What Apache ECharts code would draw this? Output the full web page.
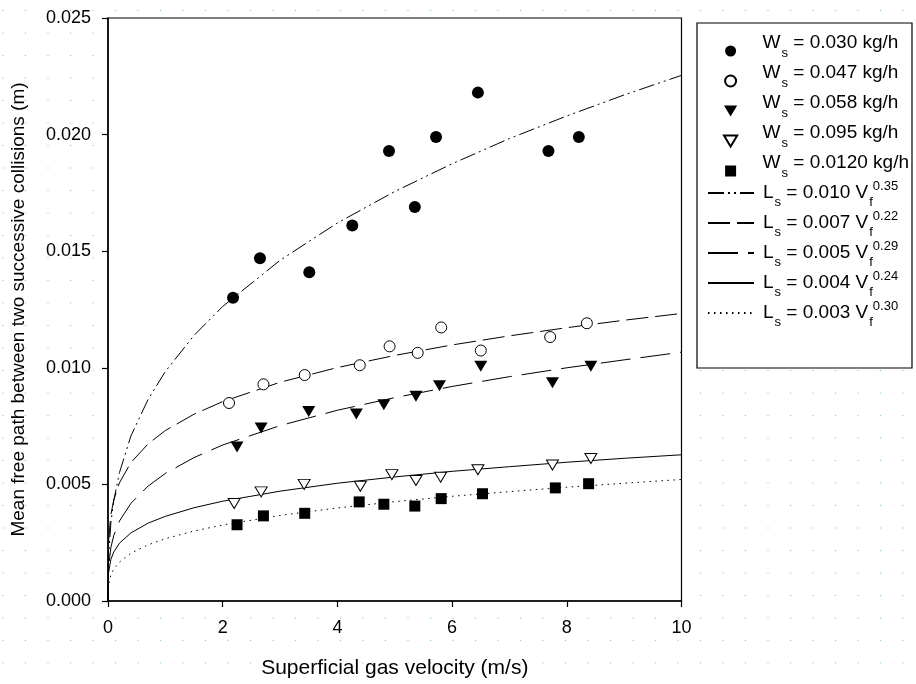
<!DOCTYPE html>
<html><head><meta charset="utf-8">
<script src="https://cdn.jsdelivr.net/npm/echarts@6/dist/echarts.min.js"></script>
<style>
html,body{margin:0;padding:0;background:#fff;}
#c{width:916px;height:684px;background-color:#fff;
background-image:radial-gradient(circle at center,#93d6ec 0,#93d6ec 0.55px,rgba(255,255,255,0) 1.1px);
background-size:22.5px 22.5px;background-position:-8.25px -0.75px;}
</style></head><body><div id="c"></div>
<script>
// ---- measured points (V in m/s, L in m) ----
const v030 = [2.18, 2.65, 3.51, 4.26, 4.90, 5.35, 5.72, 6.45, 7.68, 8.21];
const l030 = [0.0130, 0.0147, 0.0141, 0.0161, 0.0193, 0.0169, 0.0199, 0.0218, 0.0193, 0.0199];
const v047 = [2.11, 2.71, 3.43, 4.39, 4.91, 5.40, 5.81, 6.50, 7.71, 8.35];
const l047 = [0.00849, 0.00929, 0.00969, 0.01011, 0.01092, 0.01064, 0.01173, 0.01074, 0.01132, 0.01191];
const v058 = [2.25, 2.67, 3.50, 4.33, 4.81, 5.37, 5.78, 6.50, 7.75, 8.42];
const l058 = [0.00660, 0.00742, 0.00813, 0.00802, 0.00842, 0.00878, 0.00923, 0.01007, 0.00936, 0.01007];
const v095 = [2.20, 2.67, 3.42, 4.40, 4.95, 5.37, 5.80, 6.45, 7.75, 8.42];
const l095 = [0.00418, 0.00468, 0.00500, 0.00492, 0.00542, 0.00517, 0.00531, 0.00563, 0.00583, 0.00611];
const v0120 = [2.25, 2.71, 3.43, 4.38, 4.81, 5.35, 5.81, 6.53, 7.80, 8.38];
const l0120 = [0.00327, 0.00365, 0.00376, 0.00425, 0.00415, 0.00407, 0.00439, 0.00460, 0.00485, 0.00503];

// ---- fitted curves ----
const vFit = [0, 0.01, 0.05, 0.1, 0.2, 0.4, 0.7, 1, 1.5, 2, 3, 4, 5, 6, 7, 8, 9, 10];
const fitA = [0, 0.00188, 0.00335, 0.00430, 0.00551, 0.00708, 0.00865, 0.00984, 0.01139, 0.01263, 0.01461, 0.01621, 0.01756, 0.01875, 0.01983, 0.02080, 0.02170, 0.02254];
const fitB = [0, 0.00257, 0.00370, 0.00433, 0.00507, 0.00594, 0.00674, 0.00731, 0.00801, 0.00855, 0.00938, 0.01001, 0.01053, 0.01098, 0.01137, 0.01172, 0.01204, 0.01233];
const fitC = [0, 0.00144, 0.00229, 0.00281, 0.00343, 0.00419, 0.00493, 0.00547, 0.00615, 0.00669, 0.00752, 0.00818, 0.00872, 0.00920, 0.00962, 0.01000, 0.01034, 0.01067];
const fitD = [0, 0.00122, 0.00178, 0.00210, 0.00248, 0.00292, 0.00334, 0.00363, 0.00400, 0.00428, 0.00471, 0.00505, 0.00532, 0.00556, 0.00576, 0.00595, 0.00612, 0.00627];
const fitE = [0, 0.00070, 0.00112, 0.00137, 0.00167, 0.00205, 0.00241, 0.00267, 0.00300, 0.00326, 0.00367, 0.00399, 0.00426, 0.00449, 0.00469, 0.00488, 0.00505, 0.00521];

// ---- labels ----
const flowRates = ['0.030', '0.047', '0.058', '0.095', '0.0120'];
const fitCoef = ['0.010', '0.007', '0.005', '0.004', '0.003'];
const fitExp = ['0.35', '0.22', '0.29', '0.24', '0.30'];
const xTicks = [0, 2, 4, 6, 8, 10];
const yTicks = ['0.000', '0.005', '0.010', '0.015', '0.020', '0.025'];
const xTitle = 'Superficial gas velocity (m/s)';
const yTitle = 'Mean free path between two successive collisions (m)';

const FONT = '"Liberation Sans", Arial, sans-serif';
const zip = (a, b) => a.map((v, i) => [v, b[i]]);

const DOWN_TRI = 'path://M0,0L12,0L6,10Z';
const SQUARE = 'path://M0,0L10,0L10,10L0,10Z';
const scatterDefs = [
  { x: v030, y: l030, symbol: 'circle', size: 12, rot: 0, fill: '#000', icon: 'circle' },
  { x: v047, y: l047, symbol: 'circle', size: 11, rot: 0, fill: '#fff', icon: 'circle' },
  { x: v058, y: l058, symbol: 'triangle', size: [13, 11], rot: 180, fill: '#000', icon: DOWN_TRI },
  { x: v095, y: l095, symbol: 'triangle', size: [12, 10], rot: 180, fill: '#fff', icon: DOWN_TRI },
  { x: v0120, y: l0120, symbol: 'rect', size: 11, rot: 0, fill: '#000', icon: SQUARE }
];
const fitDefs = [
  { y: fitA, dash: [16, 4, 2, 4, 2, 4] },
  { y: fitB, dash: [22, 7] },
  { y: fitC, dash: [30, 10] },
  { y: fitD, dash: 'solid' },
  { y: fitE, dash: [1.5, 4.5] }
];
const wNames = flowRates.map(r => 'Ws = ' + r + ' kg/h');
const lNames = fitCoef.map((c, i) => 'Ls = ' + c + ' Vf^' + fitExp[i]);

const series = [];
fitDefs.forEach((d, i) => {
  series.push({
    name: lNames[i], type: 'line', data: zip(vFit, d.y), z: 2,
    symbol: 'none', showSymbol: false, smooth: false,
    lineStyle: { color: '#000', width: 1, type: d.dash }, itemStyle: { color: '#000' },
    animation: false, silent: true
  });
});
scatterDefs.forEach((d, i) => {
  series.push({
    name: wNames[i], type: 'scatter', data: zip(d.x, d.y), z: 3,
    symbol: d.symbol, symbolSize: d.size, symbolRotate: d.rot,
    itemStyle: { color: d.fill, borderColor: '#000', borderWidth: d.fill === '#fff' ? 1 : 0, opacity: 1 },
    animation: false, silent: true
  });
});

const tok = (size, top, bottom, left, lh) => ({ fontSize: size, lineHeight: lh, padding: [top, 0, bottom, left], verticalAlign: 'top', fontFamily: FONT, color: '#000' });

const chart = echarts.init(document.getElementById('c'), null, { renderer: 'canvas' });
chart.setOption({
  backgroundColor: 'transparent',
  animation: false,
  grid: { left: 108, right: 234.5, top: 18, bottom: 77.5, show: true, backgroundColor: '#fff', borderColor: '#000', borderWidth: 1.2 },
  xAxis: {
    type: 'value', min: 0, max: 10, interval: 2,
    axisLine: { lineStyle: { color: '#000', width: 1.5 } },
    axisTick: { show: true, length: 6, lineStyle: { color: '#000', width: 1.2 } },
    splitLine: { show: false },
    axisLabel: { color: '#000', fontSize: 18, fontFamily: FONT, margin: 18,
      formatter: v => String(xTicks[xTicks.indexOf(v)]) },
    name: xTitle, nameLocation: 'middle', nameGap: 57,
    nameTextStyle: { color: '#000', fontSize: 21, fontFamily: FONT }
  },
  yAxis: {
    type: 'value', min: 0, max: 0.025, interval: 0.005,
    axisLine: { show: true, lineStyle: { color: '#000', width: 1.5 } },
    axisTick: { show: true, length: 6, lineStyle: { color: '#000', width: 1.2 } },
    splitLine: { show: false },
    axisLabel: { color: '#000', fontSize: 18, fontFamily: FONT, margin: 17,
      formatter: v => yTicks[Math.round(v / 0.005)] },
    name: yTitle, nameLocation: 'middle', nameGap: 80,
    nameTextStyle: { color: '#000', fontSize: 19, fontFamily: FONT }
  },
  legend: [
    {
      data: wNames.map((n, i) => ({ name: n, icon: scatterDefs[i].icon })),
      orient: 'vertical', left: 697, top: 23,
      padding: [5, 3, 174, 26], itemGap: -16, itemWidth: 46, itemHeight: 11,
      symbolKeepAspect: true, symbolRotate: 0,
      backgroundColor: '#fff', borderColor: '#000', borderWidth: 1.2,
      selectedMode: false, z: 4,
      formatter: name => '{wm|W}{ws|s}{wm2| = ' + flowRates[wNames.indexOf(name)] + ' kg/h}',
      textStyle: {
        color: '#000', fontFamily: FONT,
        rich: { wm: tok(19, 5.5, 0, 4, 46), wm2: tok(19, 5.5, 0, 0, 46), ws: tok(13, 18.5, 14.5, 1, 46) }
      }
    },
    {
      data: lNames, orient: 'vertical', left: 707, top: 178,
      padding: 0, itemGap: -0.5, itemWidth: 46, itemHeight: 11,
      backgroundColor: 'transparent', borderWidth: 0,
      itemStyle: { color: 'rgba(0,0,0,0)', borderColor: 'rgba(0,0,0,0)', borderWidth: 0, opacity: 0 },
      selectedMode: false, z: 6,
      formatter: name => {
        const i = lNames.indexOf(name);
        return '{lm|L}{ls|s}{lm2| = ' + fitCoef[i] + ' V}{ls|f}{lp|' + fitExp[i] + '}';
      },
      textStyle: {
        color: '#000', fontFamily: FONT,
        rich: { lm: tok(19, 5.5, 0, 4, 30), lm2: tok(19, 5.5, 0, 0, 30), ls: tok(13, 17.5, 0, 1, 30), lp: tok(13, 1.5, 0, 0, 30) }
      }
    }
  ],
  series: series
});
</script></body></html>
